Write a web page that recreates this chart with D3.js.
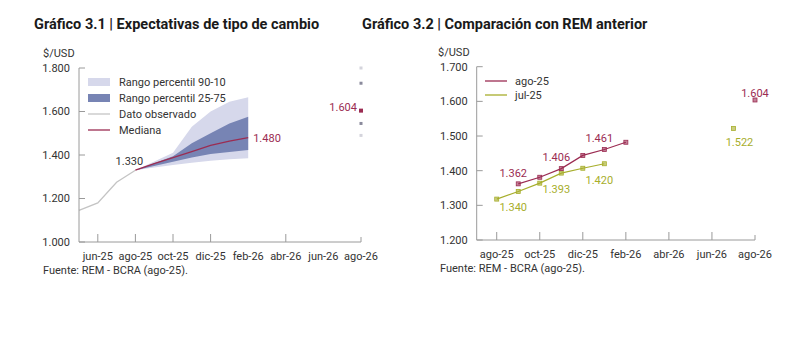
<!DOCTYPE html>
<html>
<head>
<meta charset="utf-8">
<script src="https://cdn.jsdelivr.net/npm/d3@7"></script>
<style>
  html, body { margin: 0; padding: 0; background: #fff; }
  svg { display: block; font-family: Roboto, "Noto Sans", sans-serif; }
</style>
</head>
<body>
<svg id="chart" width="800" height="338"></svg>
<script>
// ---------- Gráfico 3.1: expectativas de tipo de cambio ----------
// Month index: 0 = jun-25
const ticks1 = [0, 2, 4, 6, 8, 10, 12, 14];
const tickLabels1 = ["jun-25", "ago-25", "oct-25", "dic-25", "feb-26", "abr-26", "jun-26", "ago-26"];
const tickMarks1 = [0, 2, 4, 6, 10];
const yTicks1 = [1.0, 1.2, 1.4, 1.6, 1.8];
const yTickLabels1 = ["1.000", "1.200", "1.400", "1.600", "1.800"];

const observedMonths = [-1, 0, 1, 2];
const observedValues = [1.145, 1.180, 1.275, 1.330];

const forecastMonths = [2, 3, 4, 5, 6, 7, 8];
const p10 = [1.330, 1.342, 1.354, 1.364, 1.374, 1.380, 1.385];
const p25 = [1.330, 1.350, 1.369, 1.388, 1.405, 1.414, 1.423];
const median = [1.330, 1.360, 1.388, 1.415, 1.444, 1.464, 1.480];
const p75 = [1.330, 1.362, 1.394, 1.454, 1.500, 1.545, 1.576];
const p90 = [1.330, 1.370, 1.410, 1.530, 1.600, 1.645, 1.665];

const yearAheadMonth = 14;
const yearAheadValues = [1.490, 1.545, 1.604, 1.730, 1.800]; // p10, p25, mediana, p75, p90

// ---------- Gráfico 3.2: comparación con REM anterior ----------
// Month index: 0 = ago-25
const ticks2 = [0, 2, 4, 6, 8, 10, 12];
const tickLabels2 = ["ago-25", "oct-25", "dic-25", "feb-26", "abr-26", "jun-26", "ago-26"];
const yTicks2 = [1.2, 1.3, 1.4, 1.5, 1.6, 1.7];
const yTickLabels2 = ["1.200", "1.300", "1.400", "1.500", "1.600", "1.700"];

const remAgoMonths = [1, 2, 3, 4, 5, 6];
const remAgoValues = [1.362, 1.381, 1.406, 1.444, 1.461, 1.482];
const remAgoNextMonth = 12, remAgoNextValue = 1.604;
const remAgoLabeled = [1, 3, 5];

const remJulMonths = [0, 1, 2, 3, 4, 5];
const remJulValues = [1.318, 1.340, 1.364, 1.393, 1.407, 1.420];
const remJulNextMonth = 11, remJulNextValue = 1.522;
const remJulLabeled = [1, 3, 5];

const fmt = d3.format(".3f");

const C = {
  text: "#333",
  title: "#1a1a1a",
  axis: "#9a9a9a",
  band90: "#d6d8eb",
  band75: "#7784b4",
  observed: "#c4c4c4",
  crimson: "#9b2c52",
  olive: "#a7ae2c",
  dot90: "#d4d4dc",
  dot75: "#8a8a9c"
};

const svg = d3.select("#chart");

function drawAxes(g, x, y, cfg) {
  const [x0, x1] = x.range();
  const [yb, yt] = y.range();
  // y axis line and inward ticks
  g.append("line").attr("x1", x0).attr("x2", x0).attr("y1", yb).attr("y2", yt)
    .attr("stroke", C.axis).attr("stroke-width", 1);
  cfg.yTicks.forEach((t, i) => {
    g.append("line").attr("x1", x0).attr("x2", x0 + 6).attr("y1", y(t)).attr("y2", y(t))
      .attr("stroke", C.axis);
    g.append("text").attr("x", x0 - 9).attr("y", y(t)).attr("dy", "0.35em")
      .attr("text-anchor", "end").attr("font-size", 11).attr("fill", C.text)
      .text(cfg.yLabels[i]);
  });
  // x axis line and inward ticks
  g.append("line").attr("x1", x0).attr("x2", x1).attr("y1", yb).attr("y2", yb)
    .attr("stroke", C.axis);
  g.append("line").attr("x1", x1).attr("x2", x1).attr("y1", yb).attr("y2", yb - 5)
    .attr("stroke", C.axis);
  cfg.tickMarks.forEach(t => {
    g.append("line").attr("x1", x(t)).attr("x2", x(t)).attr("y1", yb).attr("y2", yb - 8)
      .attr("stroke", C.axis);
  });
  cfg.xTicks.forEach((t, i) => {
    g.append("text").attr("x", x(t)).attr("y", yb + 14).attr("dy", "0.35em")
      .attr("text-anchor", "middle").attr("font-size", 11).attr("fill", C.text)
      .text(cfg.xLabels[i]);
  });
  g.append("text").attr("x", cfg.unitX).attr("y", yt - 15).attr("dy", "0.35em")
    .attr("font-size", 11).attr("fill", C.text).text("$/USD");
}

// ---------- Chart 1 ----------
{
  const g = svg.append("g");
  const x = d3.scaleLinear().domain([-1, 14]).range([79, 361]);
  const y = d3.scaleLinear().domain([1.0, 1.8]).range([242, 68]);

  g.append("text").attr("x", 34).attr("y", 29).attr("font-size", 14.5)
    .attr("font-weight", 700).attr("fill", C.title)
    .text("Gráfico 3.1 | Expectativas de tipo de cambio");

  const band = (lo, hi) => d3.area()
    .x((d, i) => x(forecastMonths[i]))
    .y0((d, i) => y(lo[i])).y1((d, i) => y(hi[i]));

  g.append("path").datum(forecastMonths).attr("d", band(p10, p90)).attr("fill", C.band90);
  g.append("path").datum(forecastMonths).attr("d", band(p25, p75)).attr("fill", C.band75);

  const line = d3.line().x(d => x(d[0])).y(d => y(d[1]));
  g.append("path").datum(d3.zip(observedMonths, observedValues)).attr("d", line)
    .attr("fill", "none").attr("stroke", C.observed).attr("stroke-width", 1.3);
  g.append("path").datum(d3.zip(forecastMonths, median)).attr("d", line)
    .attr("fill", "none").attr("stroke", C.crimson).attr("stroke-width", 1.3);

  drawAxes(g, x, y, {
    yTicks: yTicks1, yLabels: yTickLabels1, xTicks: ticks1, xLabels: tickLabels1,
    tickMarks: tickMarks1, unitX: 43
  });

  // year-ahead distribution dots
  const dotColors = [C.dot90, C.dot75, C.crimson, C.dot75, C.dot90];
  yearAheadValues.forEach((v, i) => {
    const s = i === 2 ? 4 : 3;
    g.append("rect").attr("x", x(yearAheadMonth) - s / 2).attr("y", y(v) - s / 2)
      .attr("width", s).attr("height", s).attr("fill", dotColors[i]);
  });

  g.append("text").attr("x", x(yearAheadMonth) - 4).attr("y", y(yearAheadValues[2]) - 3)
    .attr("dy", "0.35em").attr("text-anchor", "end").attr("font-size", 11)
    .attr("fill", C.crimson).text(fmt(yearAheadValues[2]));

  g.append("text").attr("x", x(forecastMonths[0]) - 6).attr("y", y(median[0]) - 9)
    .attr("dy", "0.35em").attr("text-anchor", "middle").attr("font-size", 11)
    .attr("fill", C.text).text(fmt(median[0]));
  g.append("text").attr("x", x(forecastMonths[forecastMonths.length - 1]) + 5)
    .attr("y", y(median[median.length - 1]) + 1).attr("dy", "0.35em")
    .attr("font-size", 11).attr("fill", C.crimson).text(fmt(median[median.length - 1]));

  // legend
  const lg = g.append("g").attr("transform", "translate(88,0)");
  const items = [
    { type: "rect", color: C.band90, label: "Rango percentil 90-10", y: 82 },
    { type: "rect", color: C.band75, label: "Rango percentil 25-75", y: 98 },
    { type: "line", color: C.observed, label: "Dato observado", y: 114 },
    { type: "line", color: C.crimson, label: "Mediana", y: 130 }
  ];
  items.forEach(it => {
    if (it.type === "rect") {
      lg.append("rect").attr("x", 0).attr("y", it.y - 4).attr("width", 22).attr("height", 8)
        .attr("fill", it.color);
    } else {
      lg.append("line").attr("x1", 0).attr("x2", 22).attr("y1", it.y).attr("y2", it.y)
        .attr("stroke", it.color).attr("stroke-width", 1.3);
    }
    lg.append("text").attr("x", 31).attr("y", it.y).attr("dy", "0.35em")
      .attr("font-size", 11).attr("fill", C.text).text(it.label);
  });

  g.append("text").attr("x", 43).attr("y", 270).attr("dy", "0.35em")
    .attr("font-size", 11).attr("fill", C.text).text("Fuente: REM - BCRA (ago-25).");
}

// ---------- Chart 2 ----------
{
  const g = svg.append("g");
  const x = d3.scaleLinear().domain([-0.93, 12]).range([476.7, 755]);
  const y = d3.scaleLinear().domain([1.2, 1.7]).range([240, 66.7]);

  g.append("text").attr("x", 362).attr("y", 29).attr("font-size", 14.5)
    .attr("font-weight", 700).attr("fill", C.title)
    .text("Gráfico 3.2 | Comparación con REM anterior");

  drawAxes(g, x, y, {
    yTicks: yTicks2, yLabels: yTickLabels2, xTicks: ticks2, xLabels: tickLabels2,
    tickMarks: ticks2.slice(0, -1), unitX: 438
  });

  const line = d3.line().x(d => x(d[0])).y(d => y(d[1]));
  const series = [
    { months: remJulMonths, values: remJulValues, next: [remJulNextMonth, remJulNextValue],
      labeled: remJulLabeled, color: C.olive, below: true },
    { months: remAgoMonths, values: remAgoValues, next: [remAgoNextMonth, remAgoNextValue],
      labeled: remAgoLabeled, color: C.crimson, below: false }
  ];
  series.forEach(s => {
    const pts = d3.zip(s.months, s.values);
    g.append("path").datum(pts).attr("d", line).attr("fill", "none")
      .attr("stroke", s.color).attr("stroke-width", 1.2);
    pts.concat([s.next]).forEach(p => {
      g.append("rect").attr("x", x(p[0]) - 2).attr("y", y(p[1]) - 2)
        .attr("width", 4).attr("height", 4).attr("fill", s.color).attr("fill-opacity", 0.6)
        .attr("stroke", s.color).attr("stroke-width", 0.8);
    });
    s.labeled.forEach(m => {
      const i = s.months.indexOf(m);
      const v = s.values[i];
      g.append("text").attr("x", x(m) - 5).attr("y", s.below ? y(v) + 16 : y(v) - 11)
        .attr("dy", "0.35em").attr("text-anchor", "middle").attr("font-size", 11)
        .attr("fill", s.color).text(fmt(v));
    });
    g.append("text").attr("x", x(s.next[0]) + (s.below ? 6 : 0))
      .attr("y", s.below ? y(s.next[1]) + 14 : y(s.next[1]) - 7)
      .attr("dy", "0.35em").attr("text-anchor", "middle").attr("font-size", 11)
      .attr("fill", s.color).text(fmt(s.next[1]));
  });

  // legend
  const legend = [
    { color: C.crimson, label: "ago-25", y: 81 },
    { color: C.olive, label: "jul-25", y: 95 }
  ];
  legend.forEach(it => {
    g.append("line").attr("x1", 485).attr("x2", 507).attr("y1", it.y).attr("y2", it.y)
      .attr("stroke", it.color).attr("stroke-width", 1.3);
    g.append("text").attr("x", 515).attr("y", it.y).attr("dy", "0.35em")
      .attr("font-size", 11).attr("fill", C.text).text(it.label);
  });

  g.append("text").attr("x", 440).attr("y", 268).attr("dy", "0.35em")
    .attr("font-size", 11).attr("fill", C.text).text("Fuente: REM - BCRA (ago-25).");
}
</script>
</body>
</html>
